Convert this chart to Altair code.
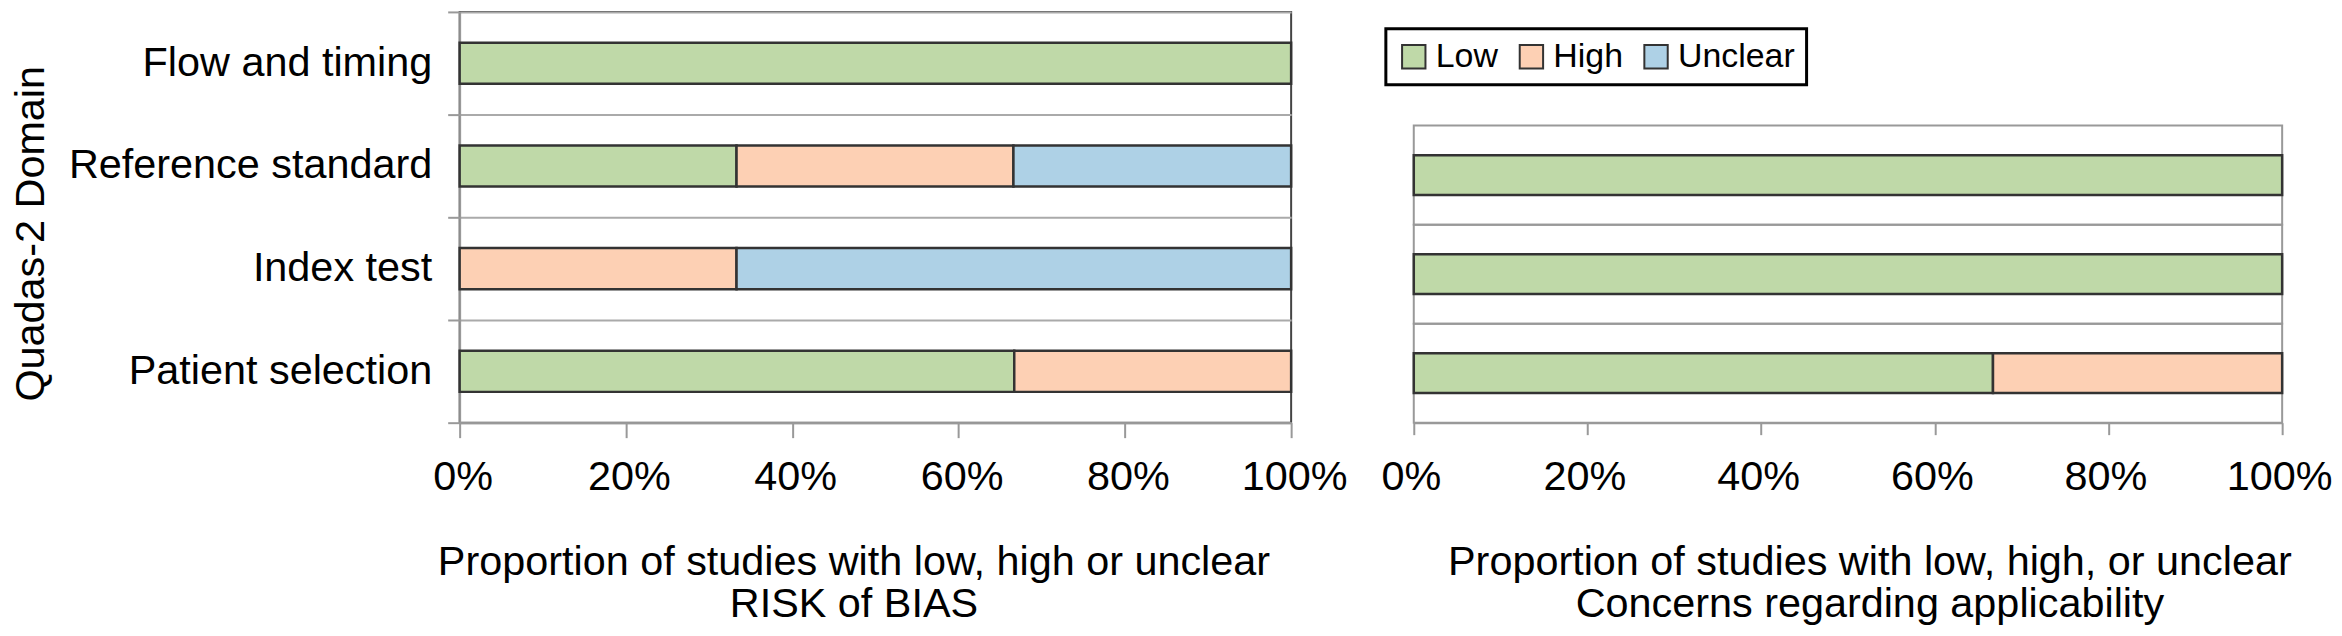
import altair as alt
import pandas as pd

# ---- data ----
domains_bias = ["Flow and timing", "Reference standard", "Index test", "Patient selection"]
domains_app = ["Reference standard", "Index test", "Patient selection"]
levels = ["Low", "High", "Unclear"]
colors = ["#BFD9A8", "#FDD0B4", "#AED1E6"]

bias_low = [1.0, 0.333, 0.0, 0.667]
bias_high = [0.0, 0.333, 0.333, 0.333]
bias_unclear = [0.0, 0.334, 0.667, 0.0]

app_low = [1.0, 1.0, 0.667]
app_high = [0.0, 0.0, 0.333]
app_unclear = [0.0, 0.0, 0.0]

tick_values = [0, 0.2, 0.4, 0.6, 0.8, 1.0]

title_bias = ["Proportion of studies with low, high or unclear", "RISK of BIAS"]
title_app = ["Proportion of studies with low, high, or unclear", "Concerns regarding applicability"]
y_title = "Quadas-2 Domain"


def long_table(domains, low, high, unclear):
    rows = []
    for i, d in enumerate(domains):
        for k, (lev, vals) in enumerate(zip(levels, [low, high, unclear])):
            if vals[i] > 0:
                rows.append({"domain": d, "level": lev, "share": vals[i], "ord": k})
    return pd.DataFrame(rows)


df_bias = long_table(domains_bias, bias_low, bias_high, bias_unclear)
df_app = long_table(domains_app, app_low, app_high, app_unclear)
# full-width band outlines for the applicability panel (0% .. 100%)
df_frame = pd.DataFrame({"domain": domains_app, "x0": [0.0] * 3, "x1": [1.0] * 3})

FONT = "Liberation Sans"
FS = 41.5
color_scale = alt.Scale(domain=levels, range=colors)
band_scale = alt.Scale(paddingInner=0, paddingOuter=0)
# bands pushed to the bottom so the panel sits lower with room for the legend
band_scale_app = alt.Scale(paddingInner=0, paddingOuter=0.574, align=1)
x_scale = alt.Scale(domain=[0, 1], nice=False)

bar = dict(height=alt.RelativeBandSize(0.4), stroke="#333333", strokeWidth=2.5, opacity=1)

left = alt.Chart(df_bias).mark_bar(**bar).encode(
    x=alt.X("share:Q", stack="normalize", scale=x_scale,
            axis=alt.Axis(values=tick_values, format=".0%", title=title_bias,
                          titleX=395, titleY=152, titleBaseline="alphabetic",
                          titleAlign="center", tickSize=15, labelPadding=19,
                          labelFlush=False, labelOffset=3, grid=False)),
    y=alt.Y("domain:N", sort=domains_bias, scale=band_scale,
            axis=alt.Axis(title=y_title, titleX=-417, titleY=222, titleAngle=270,
                          titleBaseline="alphabetic", titleAlign="center",
                          tickBand="extent", grid=True, tickSize=12, labelPadding=16)),
    color=alt.Color("level:N", scale=color_scale, legend=None),
    order=alt.Order("ord:Q"),
).properties(width=834, height=412)

frame = alt.Chart(df_frame).mark_rect(fill="transparent", stroke="#999999", strokeWidth=2).encode(
    x=alt.X("x0:Q", scale=x_scale, title=title_app),
    x2="x1:Q",
    y=alt.Y("domain:N", sort=domains_app, scale=band_scale_app, axis=None),
)

bars_app = alt.Chart(df_app).mark_bar(**bar).encode(
    x=alt.X("share:Q", stack="normalize", scale=x_scale,
            axis=alt.Axis(values=tick_values, format=".0%", title=title_app,
                          titleX=457, titleY=152, titleBaseline="alphabetic",
                          titleAlign="center", tickSize=12, labelPadding=22,
                          labelFlush=False, labelOffset=-3, grid=False)),
    y=alt.Y("domain:N", sort=domains_app, scale=band_scale_app, axis=None),
    color=alt.Color("level:N", scale=color_scale,
                    legend=alt.Legend(title=None, orient="none", legendX=-28, legendY=17,
                                      direction="horizontal", columns=3,
                                      symbolType="square", symbolSize=550,
                                      symbolStrokeColor="#333333", symbolStrokeWidth=2,
                                      symbolOpacity=1, symbolOffset=0,
                                      labelFont=FONT, labelFontSize=34, labelColor="black",
                                      labelOffset=5, columnPadding=16, padding=11,
                                      strokeColor="black")),
    order=alt.Order("ord:Q"),
)

right = alt.layer(frame, bars_app).properties(
    width=871, height=412, view=alt.ViewBackground(stroke="transparent")
)

chart = alt.hconcat(left, right, spacing=31).resolve_legend(color="independent").properties(
    padding={"top": -19, "left": 2, "right": 0, "bottom": 0}, background="white"
).configure_view(
    stroke="#444444", strokeWidth=2
).configure_axis(
    domainColor="#999999", domainWidth=2, tickColor="#999999", tickWidth=2,
    gridColor="#aaaaaa", gridWidth=2,
    labelFont=FONT, labelFontSize=FS, labelColor="black", labelLimit=1000,
    titleFont=FONT, titleFontSize=FS, titleFontWeight="normal", titleColor="black",
    titleLineHeight=42,
).configure_legend(strokeWidth=3)

chart.save("out.html", embed_options={"renderer": "svg", "actions": False})
